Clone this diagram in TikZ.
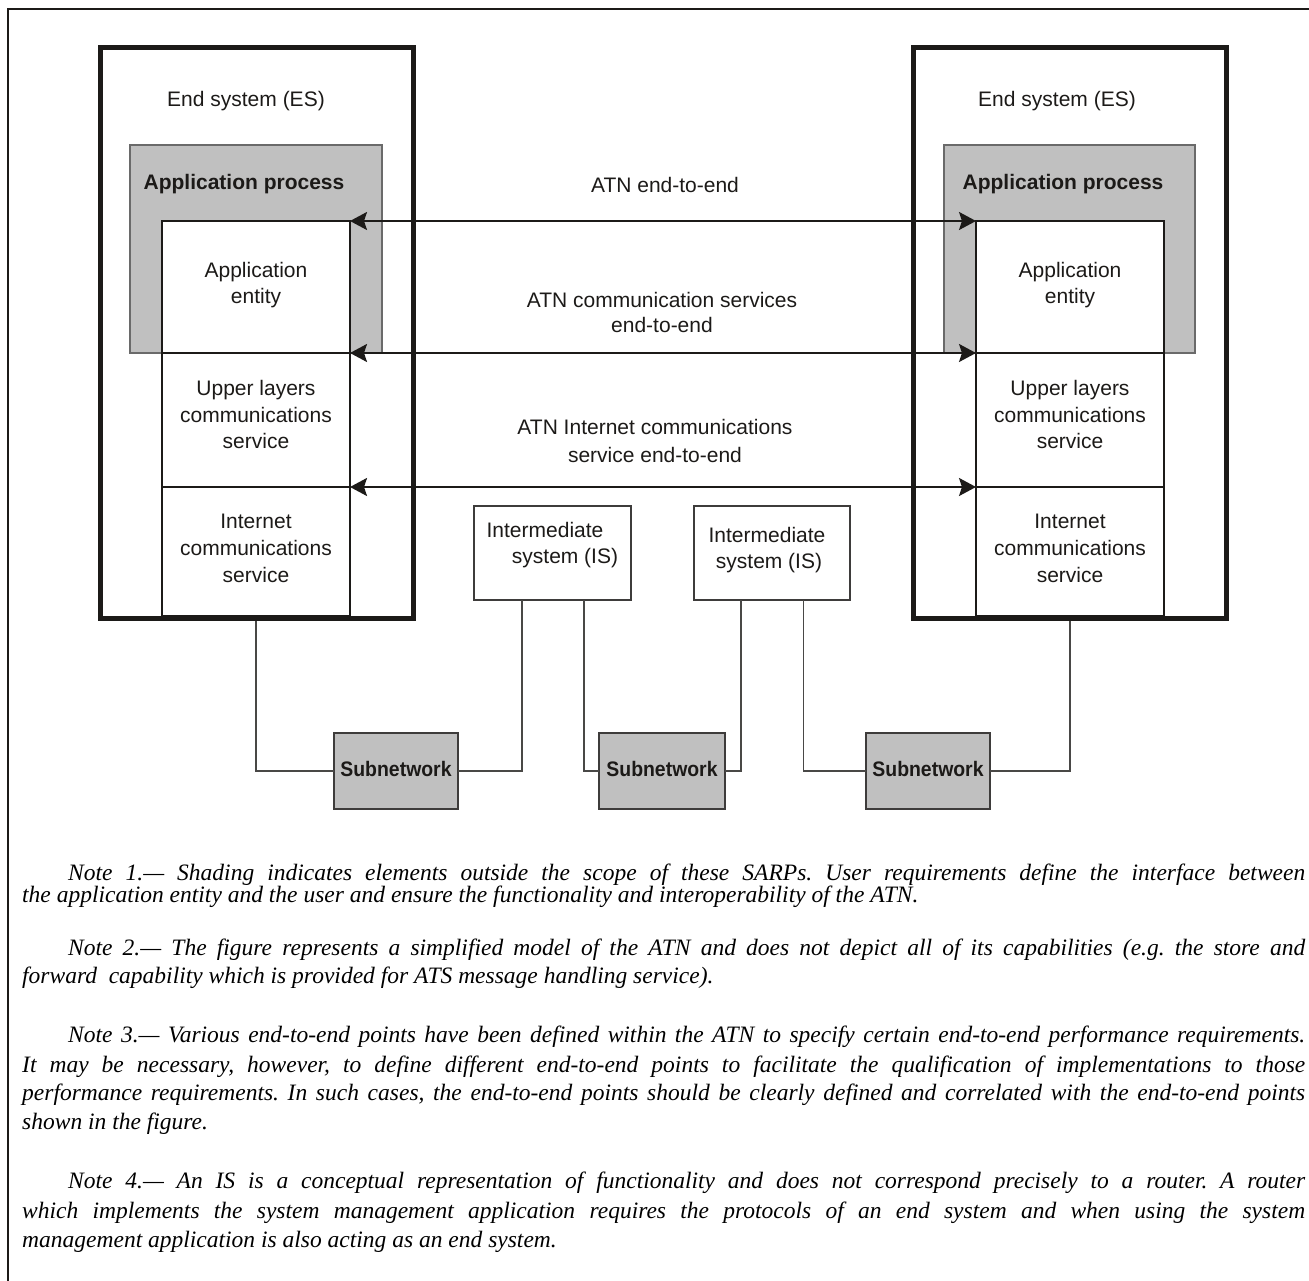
\documentclass[tikz,border=0pt]{standalone}
\usepackage{fontspec}
\usepackage{graphicx}
\setmainfont{Liberation Sans}
\newfontfamily\notefont{Liberation Serif}
\usetikzlibrary{arrows.meta,calc}
\definecolor{ink}{HTML}{1C1A18}
\definecolor{shade}{HTML}{C0C0C0}
\definecolor{edge}{HTML}{6A6A6A}
\tikzset{
  box/.style={anchor=north west, inner sep=0pt, outer sep=0pt},
  esbox/.style={box, draw=ink, line width=5pt},
  apbox/.style={box, fill=shade, draw=edge, line width=1.2pt},
  layer/.style={box, fill=white, draw=ink, line width=1.2pt},
  isbox/.style={box, fill=white, draw=ink!85, line width=1.3pt},
  snbox/.style={box, fill=shade, draw=ink!85, line width=1.3pt},
  conn/.style={draw=ink!80, line width=1.4pt},
  e2e/.style={draw=ink, line width=2pt,
    {Stealth[length=17pt,width=18pt,inset=3pt]}-{Stealth[length=17pt,width=18pt,inset=3pt]}},
  lbl/.style={anchor=base, inner sep=0pt, text=ink, font=\fontsize{21}{26}\selectfont},
  blbl/.style={lbl, font=\fontsize{21}{26}\selectfont\bfseries},
  notel/.style={anchor=base west, inner sep=0pt, text=black, font=\notefont\itshape\fontsize{23.5}{26}\selectfont\frenchspacing},
  frameline/.style={draw=ink, line width=1.5pt}
}
\begin{document}
\begin{tikzpicture}[x=1pt,y=-1pt]
\useasboundingbox (0,0) rectangle (1309,1281);
% outer frame
\coordinate (fbl) at (8,1281);
\coordinate (ftl) at (8,9);
\coordinate (ftr) at (1309,9);
\draw[frameline] (fbl) -- (ftl) -- (ftr);

% subnetworks and intermediate systems
\node[isbox, minimum width=157pt, minimum height=94pt] (is1) at (474,506) {};
\node[isbox, minimum width=156pt, minimum height=94pt] (is2) at (694,506) {};
\node[snbox, minimum width=124pt, minimum height=76pt] (sn1) at (334,733) {};
\node[snbox, minimum width=126pt, minimum height=76pt] (sn2) at (599,733) {};
\node[snbox, minimum width=124pt, minimum height=76pt] (sn3) at (866,733) {};

% connectors (drawn before end systems so they start under the thick border)
\coordinate (esLlead) at (256,616);
\coordinate (esRlead) at (1070,616);
\coordinate (is1a) at ($(is1.south west)!0.306!(is1.south east)$);
\coordinate (is1b) at ($(is1.south west)!0.70!(is1.south east)$);
\coordinate (is2a) at ($(is2.south west)!0.30!(is2.south east)$);
\coordinate (is2b) at ($(is2.south west)!0.70!(is2.south east)$);
\draw[conn] (esLlead) |- (sn1.west);
\draw[conn] (sn1.east) -| (is1a);
\draw[conn] (is1b) |- (sn2.west);
\draw[conn] (sn2.east) -| (is2a);
\draw[conn] (is2b) |- (sn3.west);
\draw[conn] (sn3.east) -| (esRlead);

% end systems
\node[esbox, minimum width=313pt, minimum height=570pt] (esL) at (100,48) {};
\node[esbox, minimum width=313pt, minimum height=570pt] (esR) at (913,48) {};
\node[apbox, minimum width=252pt, minimum height=208pt] (apL) at (130,145) {};
\node[apbox, minimum width=251pt, minimum height=208pt] (apR) at (944,145) {};
\node[layer, minimum width=188pt, minimum height=132pt] (aeL) at (162,221) {};
\node[layer, minimum width=188pt, minimum height=134pt] (ulL) at (162,353) {};
\node[layer, minimum width=188pt, minimum height=129pt] (icL) at (162,487) {};
\node[layer, minimum width=188pt, minimum height=132pt] (aeR) at (976,221) {};
\node[layer, minimum width=188pt, minimum height=134pt] (ulR) at (976,353) {};
\node[layer, minimum width=188pt, minimum height=129pt] (icR) at (976,487) {};

% end-to-end arrows
\draw[e2e] (aeL.north east) -- (aeR.north west);
\draw[e2e] (aeL.south east) -- (aeR.south west);
\draw[e2e] (ulL.south east) -- (ulR.south west);

% labels left end system
\node[lbl] (tesL) at (246,107) {End system (ES)};
\node[blbl] (tapL) at (244,190) {Application process};
\node[lbl] (taeL1) at (256,278) {Application};
\node[lbl] (taeL2) at (256,304) {entity};
\node[lbl] (tulL1) at (256,395) {Upper layers};
\node[lbl] (tulL2) at (256,422) {communications};
\node[lbl] (tulL3) at (256,448) {service};
\node[lbl] (ticL1) at (256,528) {Internet};
\node[lbl] (ticL2) at (256,555) {communications};
\node[lbl] (ticL3) at (256,582) {service};
% labels right end system
\node[lbl] (tesR) at (1057,107) {End system (ES)};
\node[blbl] (tapR) at (1063,190) {Application process};
\node[lbl] (taeR1) at (1070,278) {Application};
\node[lbl] (taeR2) at (1070,304) {entity};
\node[lbl] (tulR1) at (1070,395) {Upper layers};
\node[lbl] (tulR2) at (1070,422) {communications};
\node[lbl] (tulR3) at (1070,448) {service};
\node[lbl] (ticR1) at (1070,528) {Internet};
\node[lbl] (ticR2) at (1070,555) {communications};
\node[lbl] (ticR3) at (1070,582) {service};
% arrow labels
\node[lbl] (ta1) at (665,193) {ATN end-to-end};
\node[lbl] (ta2) at (662,308) {ATN communication services};
\node[lbl] (ta3) at (662,333) {end-to-end};
\node[lbl] (ta4) at (655,434) {ATN Internet communications};
\node[lbl] (ta5) at (655,462) {service end-to-end};
% IS labels
\node[lbl] (tis1a) at (545,537) {Intermediate};
\node[lbl] (tis1b) at (565,563) {system (IS)};
\node[lbl] (tis2a) at (767,542) {Intermediate};
\node[lbl] (tis2b) at (769,568) {system (IS)};
% subnetwork labels
\node[blbl] (tsn1) at (396,776) {\scalebox{0.925}[1]{Subnetwork}};
\node[blbl] (tsn2) at (662,776) {\scalebox{0.925}[1]{Subnetwork}};
\node[blbl] (tsn3) at (928,776) {\scalebox{0.925}[1]{Subnetwork}};

% notes
\node[notel] (n1a) at (68,880) {\makebox[1237pt][s]{Note 1.— Shading indicates elements outside the scope of these SARPs. User requirements define the interface between}};
\node[notel] (n1b) at (22,902) {the application entity and the user and ensure the functionality and interoperability of the ATN.};
\node[notel] (n2a) at (68,955) {\makebox[1237pt][s]{Note 2.— The figure represents a simplified model of the ATN and does not depict all of its capabilities (e.g. the store and}};
\node[notel] (n2b) at (22,983) {forward\ \ capability which is provided for ATS message handling service).};
\node[notel] (n3a) at (68,1042) {\makebox[1237pt][s]{Note 3.— Various end-to-end points have been defined within the ATN to specify certain end-to-end performance requirements.}};
\node[notel] (n3b) at (22,1072) {\makebox[1283pt][s]{It may be necessary, however, to define different end-to-end points to facilitate the qualification of implementations to those}};
\node[notel] (n3c) at (22,1100) {\makebox[1283pt][s]{performance requirements. In such cases, the end-to-end points should be clearly defined and correlated with the end-to-end points}};
\node[notel] (n3d) at (22,1129) {shown in the figure.};
\node[notel] (n4a) at (68,1188) {\makebox[1237pt][s]{Note 4.— An IS is a conceptual representation of functionality and does not correspond precisely to a router. A router}};
\node[notel] (n4b) at (22,1218) {\makebox[1283pt][s]{which implements the system management application requires the protocols of an end system and when using the system}};
\node[notel] (n4c) at (22,1247) {management application is also acting as an end system.};
\end{tikzpicture}
\end{document}
